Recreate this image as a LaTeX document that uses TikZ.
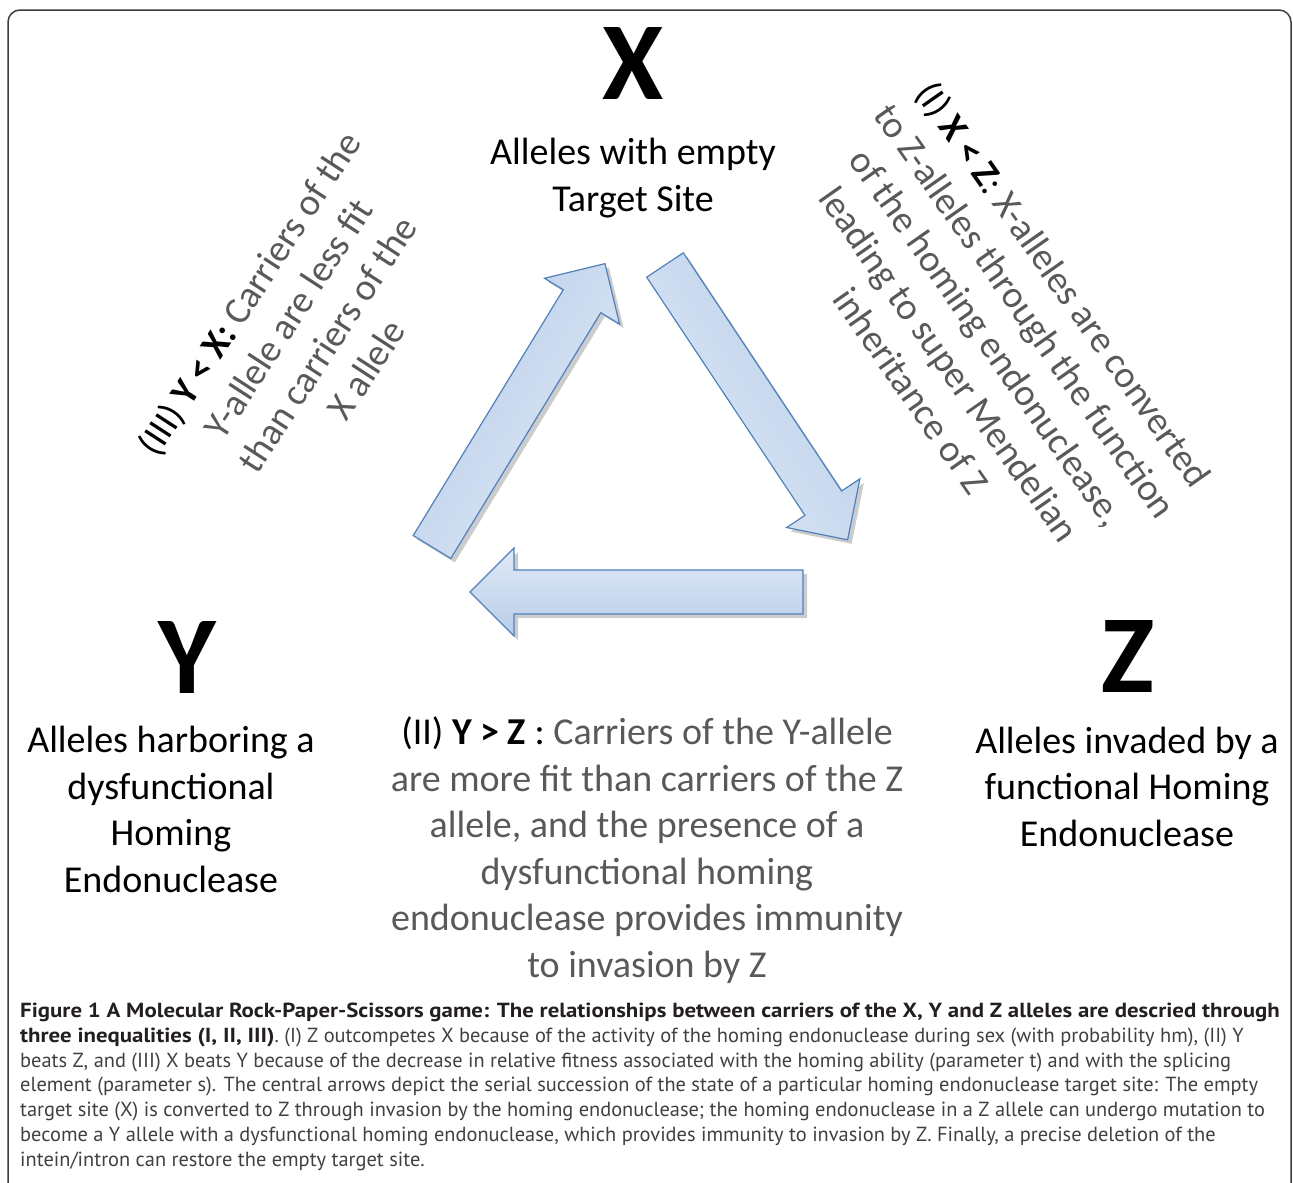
\documentclass[tikz,border=0pt]{standalone}
\usepackage{fontspec}
\setmainfont{Carlito}
\newfontfamily\capfont{PT Sans}[BoldFeatures={FakeStretch=1.12}]

\definecolor{txtgray}{RGB}{89,89,89}
\definecolor{capgray}{RGB}{64,64,64}
\definecolor{capdark}{RGB}{35,31,32}
\definecolor{framegray}{RGB}{60,60,60}
\definecolor{arrowline}{RGB}{79,129,189}
\definecolor{arrowlight}{RGB}{224,234,247}
\definecolor{arrowdark}{RGB}{184,204,232}

% block arrow: #1 tail, #2 direction, #3 length
\newcommand{\flowarrow}[3]{%
    \pgfmathsetmacro{\shadeangle}{#2-180}
    \fill[arrowshadow, shift={(#1)}, xshift=4pt, yshift=-4pt, rotate=#2]
        (0,-22) -- (#3-44,-22) -- (#3-44,-44) -- (#3,0) -- (#3-44,44) -- (#3-44,22) -- (0,22) -- cycle;
    \draw[flow, shading angle=\shadeangle, shift={(#1)}, rotate=#2]
        (0,-22) -- (#3-44,-22) -- (#3-44,-44) -- (#3,0) -- (#3-44,44) -- (#3-44,22) -- (0,22) -- cycle;
}

\begin{document}
\begin{tikzpicture}[x=1pt, y=-1pt,
    bigletter/.style={font=\fontsize{111}{111}\selectfont\bfseries, inner sep=0pt},
    allele/.style={font=\fontsize{38}{46.5}\selectfont, align=center, inner sep=0pt},
    relation/.style={font=\fontsize{38}{46.5}\selectfont, align=center, text=txtgray, inner sep=0pt},
    flow/.style={draw=arrowline, line width=1.2pt, top color=arrowlight, bottom color=arrowdark},
    arrowshadow/.style={black, opacity=.2},
    frame/.style={draw=framegray, line width=1.5pt, rounded corners=12pt},
    caption/.style={font=\capfont\fontsize{20.4}{24.7}\selectfont, align=left, text=capgray, inner sep=0pt}]
    \useasboundingbox (0,0) rectangle (1293,1183);
    \draw[frame] (8,1183) -- (8,10) -- (1291,10) -- (1291,1183);

    % X (base anchors sit on the last line)
    \node[bigletter, anchor=base] (X) at (633,99) {X};
    \node[allele, anchor=base] (xdesc) at (633,211) {Alleles with empty\\Target Site};
    % Y
    \node[bigletter, anchor=base] (Y) at (187,693) {Y};
    \node[allele, anchor=base] (ydesc) at (171,892)
        {Alleles harboring a\\dysfunctional\\Homing\\Endonuclease};
    % Z
    \node[bigletter, anchor=base] (Z) at (1128,692) {Z};
    \node[allele, anchor=base] (zdesc) at (1127,846)
        {Alleles invaded by a\\functional Homing\\Endonuclease};

    % inequalities
    \node[relation, rotate=-55] (rel1) at (988,337)
        {\textcolor{black}{(I) \textbf{X < Z}:} X-alleles are converted\\to Z-alleles through the function\\of the homing endonuclease,\\leading to super Mendelian\\inheritance of Z};
    \node[relation, anchor=base] (rel2) at (647,977)
        {\textcolor{black}{(II) \textbf{Y > Z} :} Carriers of the Y-allele\\are more fit than carriers of the Z\\allele, and the presence of a\\dysfunctional homing\\endonuclease provides immunity\\to invasion by Z};
    \node[relation, rotate=57] (rel3) at (307,331)
        {\textcolor{black}{(III) \textbf{Y < X:}} Carriers of the\\Y-allele are less fit\\than carriers of the\\X allele};

    % succession of the target site
    \coordinate (yx) at (432,547);
    \coordinate (xz) at (665,265);
    \coordinate (zy) at (803,592);
    \flowarrow{yx}{58.6}{332}
    \flowarrow{xz}{-56.4}{330}
    \flowarrow{zy}{180}{333}

    \node[caption, anchor=base west] (cap) at (20,1166)
        {\textcolor{capdark}{\textbf{Figure 1 A Molecular Rock-Paper-Scissors game: The relationships between carriers of the X, Y and Z alleles are descried through}}\\
        \textcolor{capdark}{\textbf{three inequalities (I, II, III)}}. (I) Z outcompetes X because of the activity of the homing endonuclease during sex (with probability hm), (II) Y\\
        beats Z, and (III) X beats Y because of the decrease in relative fitness associated with the homing ability (parameter t) and with the splicing\\
        element (parameter s). The central arrows depict the serial succession of the state of a particular homing endonuclease target site: The empty\\
        target site (X) is converted to Z through invasion by the homing endonuclease; the homing endonuclease in a Z allele can undergo mutation to\\
        become a Y allele with a dysfunctional homing endonuclease, which provides immunity to invasion by Z. Finally, a precise deletion of the\\
        intein/intron can restore the empty target site.};
\end{tikzpicture}
\end{document}
